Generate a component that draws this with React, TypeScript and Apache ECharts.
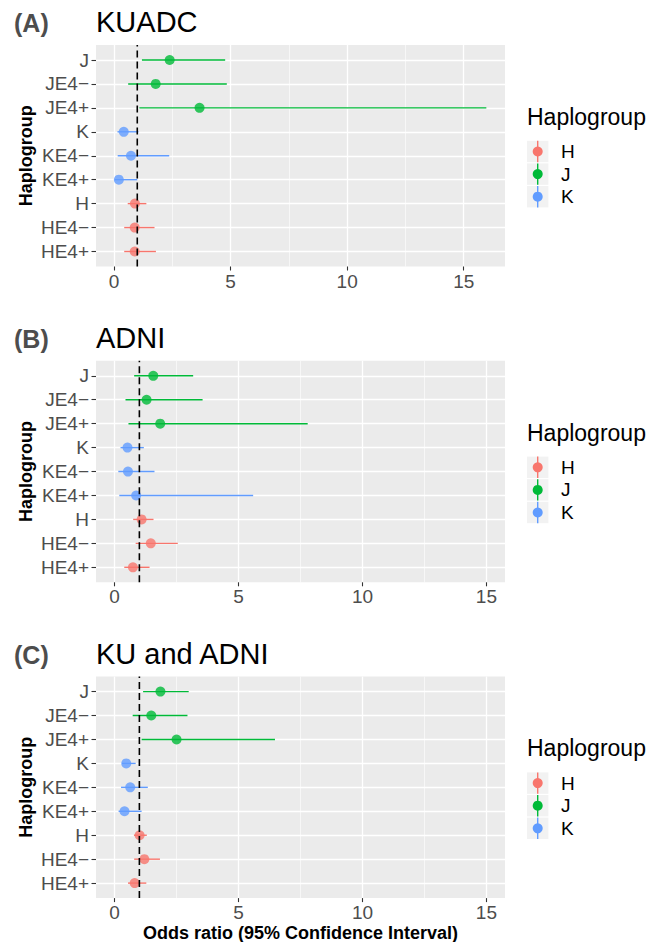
import React, { useEffect, useRef } from 'react';
import * as echarts from 'echarts';

const FONT = '"Liberation Sans", Arial, Helvetica, sans-serif';

// ---- data ----
const categories = ['J', 'JE4−', 'JE4+', 'K', 'KE4−', 'KE4+', 'H', 'HE4−', 'HE4+'];
const haplogroupOf = ['J', 'J', 'J', 'K', 'K', 'K', 'H', 'H', 'H'];
const legendGroups = ['H', 'J', 'K'];
const groupColors: Record<string, string> = { H: '#F8766D', J: '#00BA38', K: '#619CFF' };

const kuadcOR = [2.39, 1.79, 3.67, 0.42, 0.73, 0.21, 0.9, 0.89, 0.89];
const kuadcLower = [1.2, 0.61, 1.09, 0.15, 0.16, 0.03, 0.59, 0.44, 0.44];
const kuadcUpper = [4.77, 4.84, 15.97, 1.05, 2.37, 1.0, 1.39, 1.74, 1.8];

const adniOR = [1.56, 1.29, 1.84, 0.52, 0.54, 0.87, 1.09, 1.46, 0.74];
const adniLower = [0.79, 0.44, 0.56, 0.24, 0.15, 0.19, 0.75, 0.85, 0.39];
const adniUpper = [3.17, 3.55, 7.79, 1.18, 1.61, 5.59, 1.57, 2.55, 1.41];

const combinedOR = [1.85, 1.48, 2.5, 0.47, 0.63, 0.4, 1.01, 1.2, 0.81];
const combinedLower = [1.15, 0.73, 1.09, 0.3, 0.26, 0.16, 0.78, 0.79, 0.54];
const combinedUpper = [2.99, 2.94, 6.47, 0.85, 1.34, 1.09, 1.3, 1.83, 1.28];

const xTickValues = [0, 5, 10, 15];
const referenceOR = 1;

const panelTags = ['(A)', '(B)', '(C)'];
const panelTitles = ['KUADC', 'ADNI', 'KU and ADNI'];
const panelXMin = [-0.77, -0.75, -0.75];
const panelXMax = [16.77, 15.75, 15.75];
const panelOR = [kuadcOR, adniOR, combinedOR];
const panelLower = [kuadcLower, adniLower, combinedLower];
const panelUpper = [kuadcUpper, adniUpper, combinedUpper];

// ---- layout ----
const PANEL_LEFT = 96;
const PANEL_WIDTH = 409;
const PANEL_TOPS = [45, 360.8, 676.6];
const PANEL_H = 221.5;
const INSET = 15;

export default function App() {
  const ref = useRef<HTMLDivElement>(null);

  useEffect(() => {
    if (!ref.current) return;
    const chart = echarts.init(ref.current, null, { renderer: 'svg' });

    const grid: any[] = [];
    const xAxis: any[] = [];
    const yAxis: any[] = [];
    const series: any[] = [];
    const graphic: any[] = [];

    panelTitles.forEach((title, k) => {
      const top = PANEL_TOPS[k];
      const dy = top - PANEL_TOPS[0];
      const bg = 2 * k;
      const dg = 2 * k + 1;

      grid.push({
        left: PANEL_LEFT, width: PANEL_WIDTH, top, height: PANEL_H,
        show: true, backgroundColor: '#EBEBEB', borderWidth: 0,
      });
      grid.push({
        left: PANEL_LEFT, width: PANEL_WIDTH, top: top + INSET, height: PANEL_H - 2 * INSET,
        show: false,
      });

      xAxis.push({
        type: 'value', gridIndex: bg, min: panelXMin[k], max: panelXMax[k],
        splitNumber: 4, minInterval: 5, maxInterval: 5,
        axisLine: { show: false, onZero: false },
        axisTick: { show: true, customValues: xTickValues, length: 4, lineStyle: { color: '#333333', width: 1.1 } },
        axisLabel: { customValues: xTickValues, color: '#4D4D4D', fontSize: 19, fontFamily: FONT, margin: 5 },
        splitLine: { show: true, lineStyle: { color: '#FFFFFF', width: 1.3 } },
        minorTick: { show: false, splitNumber: 2 },
        minorSplitLine: { show: true, lineStyle: { color: '#FFFFFF', width: 0.6 } },
      });
      yAxis.push({ type: 'value', gridIndex: bg, min: 0, max: 1, show: false, axisLine: { onZero: false } });

      xAxis.push({
        type: 'value', gridIndex: dg, min: panelXMin[k], max: panelXMax[k], show: false,
        axisLine: { onZero: false },
      });
      yAxis.push({
        type: 'value', gridIndex: dg, min: 0, max: categories.length - 1, interval: 1, inverse: true,
        position: 'left',
        axisLine: { show: false, onZero: false },
        axisTick: { show: true, length: 4.5, lineStyle: { color: '#333333', width: 1.1 } },
        axisLabel: {
          color: '#4D4D4D', fontSize: 19, fontFamily: FONT, margin: 7,
          formatter: (v: number) => categories[Math.round(v)] ?? '',
        },
        splitLine: { show: true, lineStyle: { color: '#FFFFFF', width: 1.3 } },
      });

      const lower = panelLower[k];
      const upper = panelUpper[k];
      const or = panelOR[k];

      series.push({
        type: 'custom', xAxisIndex: dg, yAxisIndex: dg, clip: false, silent: true, z: 2,
        data: categories.map((c, i) => [lower[i], upper[i], i]),
        encode: { x: [0, 1], y: 2 },
        renderItem: (params: any, api: any) => {
          const p1 = api.coord([api.value(0), api.value(2)]);
          const p2 = api.coord([api.value(1), api.value(2)]);
          return {
            type: 'line',
            shape: { x1: p1[0], y1: p1[1], x2: p2[0], y2: p2[1] },
            style: { stroke: groupColors[haplogroupOf[params.dataIndex]], lineWidth: 1.4 },
          };
        },
      });
      series.push({
        type: 'scatter', xAxisIndex: dg, yAxisIndex: dg, clip: false, silent: true, z: 3,
        symbol: 'circle', symbolSize: 10,
        data: categories.map((c, i) => ({
          value: [or[i], i],
          itemStyle: { color: groupColors[haplogroupOf[i]] },
        })),
      });
      series.push({
        type: 'line', xAxisIndex: bg, yAxisIndex: bg, silent: true, z: 5,
        symbol: 'none',
        data: [[referenceOR, 0], [referenceOR, 1]],
        lineStyle: { color: '#000000', width: 1.6, type: [7, 4] },
      });

      // titles
      graphic.push({
        type: 'text', x: 14, y: 23.4 + dy, z: 10,
        style: { text: panelTags[k], font: `bold 25px ${FONT}`, fill: '#4D4D4D', textAlign: 'left', textVerticalAlign: 'middle' },
      });
      graphic.push({
        type: 'text', x: 96, y: 22 + dy, z: 10,
        style: { text: title, font: `29px ${FONT}`, fill: '#000000', textAlign: 'left', textVerticalAlign: 'middle' },
      });
      // y axis title
      graphic.push({
        type: 'text', x: 26, y: top + PANEL_H / 2, rotation: Math.PI / 2, z: 10,
        style: { text: 'Haplogroup', font: `bold 18px ${FONT}`, fill: '#000000', textAlign: 'center', textVerticalAlign: 'middle' },
      });
      // legend
      graphic.push({
        type: 'text', x: 527, y: 116.7 + dy, z: 10,
        style: { text: 'Haplogroup', font: `23px ${FONT}`, fill: '#000000', textAlign: 'left', textVerticalAlign: 'middle' },
      });
      legendGroups.forEach((g, j) => {
        const cy = 151.5 + dy + j * 22.6;
        graphic.push({
          type: 'rect', shape: { x: 527, y: cy - 10.7, width: 21.4, height: 21.4 }, z: 10,
          style: { fill: '#F2F2F2' },
        });
        graphic.push({
          type: 'line', shape: { x1: 537.7, y1: cy - 10.7, x2: 537.7, y2: cy + 10.7 }, z: 11,
          style: { stroke: groupColors[g], lineWidth: 1.4 },
        });
        graphic.push({
          type: 'circle', shape: { cx: 537.7, cy, r: 5 }, z: 12,
          style: { fill: groupColors[g] },
        });
        graphic.push({
          type: 'text', x: 561, y: cy, z: 12,
          style: { text: g, font: `19px ${FONT}`, fill: '#000000', textAlign: 'left', textVerticalAlign: 'middle' },
        });
      });
    });

    graphic.push({
      type: 'text', x: PANEL_LEFT + PANEL_WIDTH / 2, y: 932.5, z: 10,
      style: { text: 'Odds ratio (95% Confidence Interval)', font: `bold 18px ${FONT}`, fill: '#000000', textAlign: 'center', textVerticalAlign: 'middle' },
    });

    chart.setOption({
      animation: false,
      backgroundColor: '#FFFFFF',
      textStyle: { fontFamily: FONT },
      grid, xAxis, yAxis, series, graphic,
    });

    return () => chart.dispose();
  }, []);

  return (
    <div
      ref={ref}
      style={{ position: 'absolute', left: 0, top: 0, width: 670, height: 942 }}
    />
  );
}
